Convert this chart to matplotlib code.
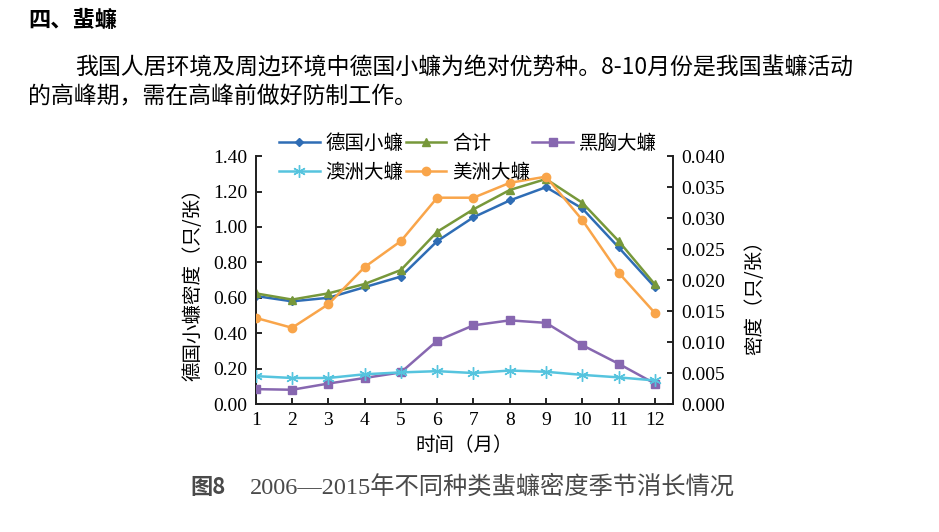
import numpy as np
import matplotlib
matplotlib.use('Agg')
import matplotlib.pyplot as plt

# monthly densities
months = list(range(1, 13))
german = [0.61, 0.58, 0.60, 0.66, 0.72, 0.92, 1.055, 1.15, 1.225, 1.105, 0.885, 0.66]
total = [0.625, 0.59, 0.625, 0.678, 0.757, 0.973, 1.10, 1.209, 1.271, 1.137, 0.921, 0.676]
oriental = [0.0024, 0.0023, 0.0033, 0.0042, 0.0051, 0.0102, 0.0127, 0.0135, 0.0131, 0.0095, 0.0065, 0.0033]
australian = [0.0045, 0.0042, 0.0042, 0.0048, 0.0051, 0.0053, 0.0050, 0.0054, 0.0052, 0.0047, 0.0043, 0.0038]
american = [0.0139, 0.0123, 0.0161, 0.0221, 0.0263, 0.0333, 0.0333, 0.0357, 0.0367, 0.0297, 0.0212, 0.0147]

left_ticks = [0.0, 0.2, 0.4, 0.6, 0.8, 1.0, 1.2, 1.4]
right_ticks = [0.0, 0.005, 0.010, 0.015, 0.020, 0.025, 0.030, 0.035, 0.040]

cjk = 'Noto Sans CJK SC'
plt.rcParams['font.family'] = ['Liberation Serif', 'Noto Sans CJK SC']

fig = plt.figure(figsize=(9.39, 5.32), dpi=100)
ax = fig.add_axes([0.2724, 0.2406, 0.4443, 0.4658])
ax2 = ax.twinx()

l1, = ax.plot(months, german, color='#2F6DB5', lw=1.8, marker='D', ms=4.5, label='德国小蠊', zorder=3)
l2, = ax.plot(months, total, color='#77983A', lw=1.8, marker='^', ms=6, label='合计', zorder=4)
l3, = ax2.plot(months, oriental, color='#8767B0', lw=1.8, marker='s', ms=6, label='黑胸大蠊', zorder=3)
l4, = ax2.plot(months, australian, color='#56C4DE', lw=1.8, marker=(6, 2, 0), ms=9, mew=1.0, label='澳洲大蠊', zorder=4)
l5, = ax2.plot(months, american, color='#F9A54A', lw=1.8, marker='o', ms=6, label='美洲大蠊', zorder=5)

ax.set_xlim(1, 12.5)
ax.set_ylim(0, 1.4)
ax2.set_ylim(0, 0.040)
ax.set_xticks(months)
ax.set_yticks(left_ticks)
ax.set_yticklabels([f'{v:.2f}' for v in left_ticks])
ax2.set_yticks(right_ticks)
ax2.set_yticklabels([f'{v:.3f}' for v in right_ticks])

for a in (ax, ax2):
    a.spines['top'].set_visible(False)
    for s in a.spines.values():
        s.set_linewidth(1.3)
        s.set_color('#222222')
ax.tick_params(axis='both', direction='in', length=4, width=1.2, labelsize=14, pad=6)
ax2.tick_params(axis='y', direction='in', length=4, width=1.2, labelsize=14, pad=6)

ax.set_xlabel('时间（月）', family=cjk, fontsize=14, labelpad=4)
ax.set_ylabel('德国小蠊密度（只/张）', family=cjk, fontsize=14)
ax.yaxis.set_label_coords(-0.125, 0.5)
ax2.set_ylabel('密度（只/张）', family=cjk, fontsize=14)
ax2.yaxis.set_label_coords(1.17, 0.45)

# column-major order so rows read 德国/合计/黑胸, 澳洲/美洲
handles = [l1, l4, l2, l5, l3]
fig.legend(handles, [h.get_label() for h in handles], ncol=3, loc='upper left',
           bbox_to_anchor=(279 / 939, 1 - 133 / 532), frameon=False,
           prop={'family': cjk, 'size': 14}, columnspacing=0.1, handletextpad=0.3,
           handlelength=2.1, labelspacing=0.38, borderpad=0, borderaxespad=0)

# text around the chart
fig.text(28 / 939, 1 - 20 / 532, '四、蜚蠊', family=cjk, fontsize=16, fontweight='bold',
         va='center', ha='left')
fig.text(75 / 939, 1 - 68 / 532, '我国人居环境及周边环境中德国小蠊为绝对优势种。8-10月份是我国蜚蠊活动',
         family=cjk, fontsize=16.5, va='center', ha='left')
fig.text(28 / 939, 1 - 97 / 532, '的高峰期，需在高峰前做好防制工作。',
         family=cjk, fontsize=16.5, va='center', ha='left')
fig.text(190 / 939, 1 - 487 / 532, '图8', family=cjk, fontsize=16, fontweight='bold',
         color='#4a4a4a', va='center', ha='left')
fig.text(250 / 939, 1 - 487 / 532, '2006—2015年不同种类蜚蠊密度季节消长情况',
         family=['Liberation Serif', cjk], fontsize=17.5, color='#4a4a4a', va='center', ha='left')

plt.savefig('out.png', dpi=100)
